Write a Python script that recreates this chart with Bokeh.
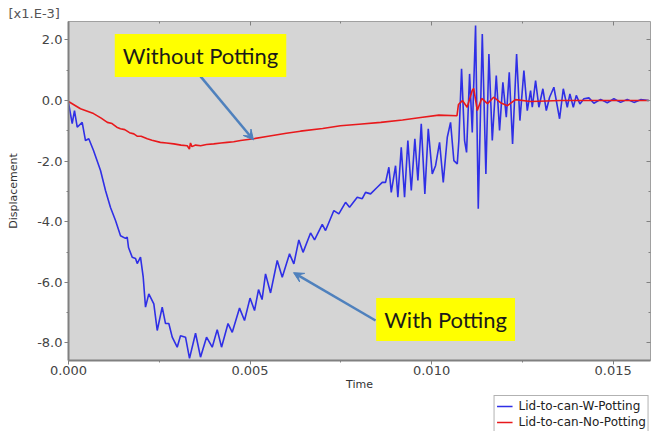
from bokeh.plotting import figure
from bokeh.layouts import column
from bokeh.models import (Range1d, LinearAxis, FixedTicker, NumeralTickFormatter,
                          Label, Arrow, VeeHead, Legend, LegendItem)
from bokeh.embed import file_html
from bokeh.resources import INLINE

# ---- data (time in ms, displacement in x1e-3) ----
blue_t_ms = [0.000, 0.102, 0.165, 0.240, 0.377, 0.468, 0.559, 0.689, 0.882, 1.019,
             1.157, 1.295, 1.433, 1.570, 1.617, 1.653, 1.755, 1.846, 1.893, 1.983,
             2.058, 2.121, 2.212, 2.350, 2.444, 2.581, 2.672, 2.763, 2.857, 2.994,
             3.085, 3.223, 3.333, 3.499, 3.636, 3.802, 3.959, 4.096, 4.215, 4.394,
             4.510, 4.711, 4.848, 5.000, 5.124, 5.234, 5.331, 5.427, 5.565, 5.749,
             5.887, 6.088, 6.207, 6.344, 6.460, 6.667, 6.777, 6.989, 7.080, 7.309,
             7.446, 7.631, 7.741, 7.953, 8.091, 8.182, 8.320, 8.504, 8.642, 8.733,
             8.824, 8.890, 9.008, 9.072, 9.165, 9.256, 9.347, 9.441, 9.540, 9.623,
             9.716, 9.815, 9.909, 10.019, 10.110, 10.220, 10.322, 10.433, 10.523, 10.614,
             10.708, 10.752, 10.826, 10.909, 10.964, 11.047, 11.121, 11.212, 11.286, 11.397,
             11.496, 11.579, 11.672, 11.782, 11.873, 11.964, 12.058, 12.140, 12.231, 12.342,
             12.433, 12.543, 12.636, 12.727, 12.774, 12.865, 12.956, 13.066, 13.160, 13.251,
             13.369, 13.526, 13.628, 13.738, 13.810, 13.904, 13.986, 14.085, 14.196, 14.333,
             14.471, 14.656, 14.840, 15.022, 15.207, 15.391, 15.573, 15.758, 15.986]
blue_disp = [-0.07, -0.76, -0.33, -0.88, -0.72, -1.32, -1.26, -1.65, -2.31, -2.97,
             -3.53, -3.96, -4.46, -4.55, -4.51, -4.85, -5.17, -5.21, -5.38, -5.17,
             -5.83, -6.82, -6.38, -6.71, -7.59, -6.82, -7.36, -7.36, -7.81, -8.14,
             -7.76, -7.81, -8.51, -7.68, -8.47, -7.81, -8.14, -7.56, -8.14, -7.36,
             -7.65, -6.85, -7.26, -6.52, -6.93, -6.24, -6.57, -5.72, -6.35, -5.28,
             -5.83, -5.06, -5.39, -4.60, -5.01, -4.37, -4.60, -4.09, -4.29, -3.63,
             -3.74, -3.36, -3.52, -3.19, -3.24, -3.03, -3.08, -2.86, -2.70, -2.70,
             -2.20, -3.03, -2.15, -3.19, -1.54, -3.19, -1.32, -2.97, -1.26, -2.64,
             -0.77, -3.08, -0.93, -2.42, -2.15, -1.38, -2.70, -1.21, -0.72, -1.98,
             -2.09, -1.32, 1.05, -1.32, -1.71, 0.88, -1.05, 2.48, -3.57, 2.20,
             -2.42, 1.54, -1.32, 0.83, -0.99, 0.60, -0.55, 0.93, -1.43, 1.54,
             -0.66, 0.99, -0.33, 0.33, -0.22, 0.66, -0.22, 0.39, -0.33, 0.11,
             0.44, -0.60, 0.39, -0.22, 0.22, -0.22, 0.17, -0.11, 0.06, 0.09,
             -0.09, 0.04, -0.07, 0.06, -0.06, 0.04, -0.06, 0.03, 0.00]

red_t_ms = [0.00, 0.33, 0.69, 0.90, 1.07, 1.20, 1.33, 1.43, 1.55, 1.68,
            1.80, 1.90, 2.00, 2.17, 2.30, 2.53, 2.70, 2.90, 3.10, 3.27,
            3.33, 3.36, 3.40, 3.50, 3.64, 3.80, 4.00, 4.20, 4.37, 4.55,
            4.74, 5.10, 5.50, 6.00, 6.39, 7.00, 7.49, 8.00, 8.60, 9.20,
            9.70, 10.20, 10.70, 10.74, 10.85, 10.98, 11.12, 11.16, 11.26, 11.38,
            11.54, 11.71, 11.90, 12.09, 12.31, 12.73, 13.55, 15.98]
red_disp = [-0.03, -0.27, -0.43, -0.58, -0.72, -0.76, -0.88, -0.93, -0.96, -1.06,
            -1.10, -1.18, -1.18, -1.26, -1.31, -1.38, -1.40, -1.43, -1.47, -1.49,
            -1.60, -1.40, -1.52, -1.47, -1.49, -1.45, -1.43, -1.40, -1.38, -1.36,
            -1.32, -1.26, -1.18, -1.08, -1.01, -0.92, -0.83, -0.78, -0.72, -0.64,
            -0.56, -0.48, -0.50, -0.13, 0.00, -0.22, 0.33, 0.40, -0.33, 0.07,
            -0.10, 0.11, -0.07, -0.17, 0.03, -0.03, 0.00, 0.00]

x_ticks = [0.0, 0.005, 0.010, 0.015]
x_minor = [0.0025, 0.0075, 0.0125]
y_ticks = [-8.0, -6.0, -4.0, -2.0, 0.0, 2.0]
y_minor = [-7.0, -5.0, -3.0, -1.0, 1.0]

series_labels = ["Lid-to-can-W-Potting", "Lid-to-can-No-Potting"]

blue_t = [v / 1000.0 for v in blue_t_ms]
red_t = [v / 1000.0 for v in red_t_ms]

BLUE = "#2f2fe6"
RED = "#e8191c"
ARROW = "#4f81bd"
FONT = "DejaVu Sans"

p = figure(width=670, height=394, output_backend="svg", toolbar_location=None,
           x_range=Range1d(0, 0.01603), y_range=Range1d(-8.58, 2.61),
           min_border_left=68, min_border_right=20, min_border_top=21,
           min_border_bottom=34)
p.background_fill_color = "#d5d5d5"
p.border_fill_color = "white"
p.outline_line_color = "#a0a0a0"
p.outline_line_width = 1
p.xgrid.visible = False
p.ygrid.visible = False

# title
p.title.text = "[x1.E-3]"
p.title.align = "left"
p.title.offset = -60
p.title.text_font = FONT
p.title.text_font_size = "13px"
p.title.text_font_style = "normal"
p.title.text_color = "#555555"
p.title.standoff = 2

xa = p.xaxis[0]
xa.ticker = FixedTicker(ticks=x_ticks, minor_ticks=x_minor)
xa.formatter = NumeralTickFormatter(format="0.000")
xa.axis_label = "Time"
ya = p.yaxis[0]
ya.ticker = FixedTicker(ticks=y_ticks, minor_ticks=y_minor)
ya.formatter = NumeralTickFormatter(format="0.0")
ya.axis_label = "Displacement"

for ax in (xa, ya):
    ax.axis_line_color = "#808080"
    ax.axis_line_width = 2
    ax.major_tick_line_color = "#808080"
    ax.minor_tick_line_color = "#808080"
    ax.major_tick_out = 4
    ax.major_tick_in = 0
    ax.minor_tick_out = 2
    ax.minor_tick_in = 0
    ax.major_label_text_font = FONT
    ax.major_label_text_font_size = "13px"
    ax.major_label_text_color = "#444444"
    ax.axis_label_text_font = FONT
    ax.axis_label_text_font_size = "11px"
    ax.axis_label_text_font_style = "normal"
    ax.axis_label_text_color = "#333333"
xa.major_label_standoff = 1
xa.axis_label_standoff = 0
ya.major_label_standoff = 2
ya.axis_label_standoff = 14

# mirrored ticks on top and right
top = LinearAxis(ticker=FixedTicker(ticks=x_ticks, minor_ticks=x_minor))
right = LinearAxis(ticker=FixedTicker(ticks=y_ticks, minor_ticks=y_minor))
for ax in (top, right):
    ax.axis_line_color = None
    ax.major_tick_line_color = "#808080"
    ax.minor_tick_line_color = "#808080"
    ax.major_tick_in = 4
    ax.major_tick_out = 0
    ax.minor_tick_in = 2
    ax.minor_tick_out = 0
    ax.major_label_text_font_size = "0px"
    ax.major_label_standoff = 0
p.add_layout(top, "above")
p.add_layout(right, "right")

p.line(blue_t, blue_disp, line_color=BLUE, line_width=1.6)
p.line(red_t, red_disp, line_color=RED, line_width=1.6)

# annotations
p.add_layout(Arrow(end=VeeHead(size=10, line_color=ARROW, fill_color=ARROW, line_width=1),
                   x_start=0.003636, y_start=0.80, x_end=0.005096, y_end=-1.30,
                   line_color=ARROW, line_width=2.5))
p.add_layout(Arrow(end=VeeHead(size=10, line_color=ARROW, fill_color=ARROW, line_width=1),
                   x_start=0.008457, y_start=-7.26, x_end=0.006198, y_end=-5.68,
                   line_color=ARROW, line_width=2.5))

p.add_layout(Label(x=0.003636, y=1.485, text="Without Potting", text_align="center",
                   text_baseline="middle", text_font="Lato", text_font_size="22px",
                   text_color="#1a1a1a", background_fill_color="#ffff00",
                   background_fill_alpha=1, padding=8))
p.add_layout(Label(x=0.010386, y=-7.23, text="With Potting", text_align="center",
                   text_baseline="middle", text_font="Lato", text_font_size="22px",
                   text_color="#1a1a1a", background_fill_color="#ffff00",
                   background_fill_alpha=1, padding=8))

# legend strip below the chart (swatch renderers lie outside its range, so only the legend shows)
pl = figure(width=670, height=37, output_backend="svg", toolbar_location=None,
            x_axis_type=None, y_axis_type=None, min_border=0,
            x_range=Range1d(0, 1), y_range=Range1d(0, 1))
pl.outline_line_color = None
pl.background_fill_color = "white"
pl.border_fill_color = "white"
pl.xgrid.visible = False
pl.ygrid.visible = False
lb = pl.line([5, 6], [5, 6], line_color=BLUE, line_width=1.6)
lr = pl.line([5, 6], [5, 6], line_color=RED, line_width=1.6)
legend = Legend(items=[LegendItem(label=series_labels[0], renderers=[lb]),
                       LegendItem(label=series_labels[1], renderers=[lr])],
                location="top_right", orientation="vertical",
                label_text_font=FONT, label_text_font_size="12px",
                label_text_color="#222222", glyph_width=16, glyph_height=16,
                label_height=16, label_standoff=6, spacing=0, padding=2,
                margin=1, border_line_color="#666666", border_line_width=1,
                background_fill_color="white", background_fill_alpha=1)
pl.add_layout(legend, "center")

layout = column(p, pl, spacing=0)
open("out.html", "w").write(file_html(layout, INLINE))
